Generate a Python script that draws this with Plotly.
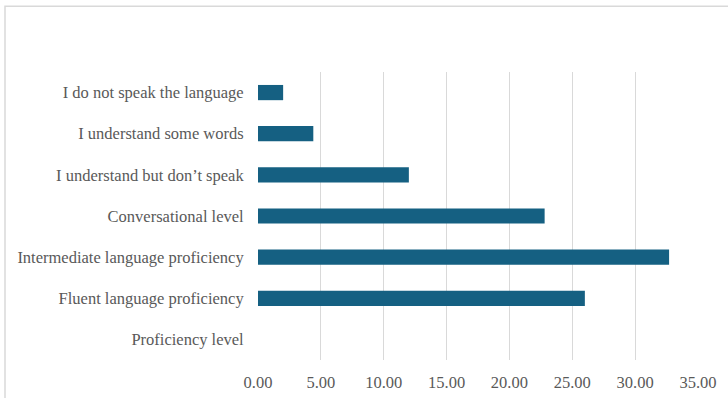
import plotly.graph_objects as go

# Survey responses by language proficiency (percent of respondents)
categories = [
    "I do not speak the language",
    "I understand some words",
    "I understand but don\u2019t speak",
    "Conversational level",
    "Intermediate language proficiency",
    "Fluent language proficiency",
    "Proficiency level",
]
values = [2.0, 4.4, 12.0, 22.8, 32.7, 26.0, None]
tick_vals = [0, 5, 10, 15, 20, 25, 30, 35]
tick_text = ["0.00", "5.00", "10.00", "15.00", "20.00", "25.00", "30.00", "35.00"]

BAR_COLOR = "#156082"
TEXT_COLOR = "#595959"
GRID_COLOR = "#d9d9d9"
FONT = "Liberation Serif, Times New Roman, serif"

fig = go.Figure(
    go.Bar(
        x=values,
        y=categories,
        orientation="h",
        marker=dict(color=BAR_COLOR, line=dict(width=0)),
        hoverinfo="x+y",
    )
)

fig.update_layout(
    width=728,
    height=398,
    margin=dict(l=258, r=30, t=72, b=38, autoexpand=False),
    paper_bgcolor="white",
    plot_bgcolor="white",
    bargap=0.63,
    showlegend=False,
    font=dict(family=FONT, size=16.5, color=TEXT_COLOR),
    xaxis=dict(
        range=[0, 35],
        tickvals=tick_vals,
        ticktext=tick_text,
        showgrid=True,
        gridcolor=GRID_COLOR,
        gridwidth=1,
        zeroline=False,
        showline=False,
        ticks="outside",
        ticklen=7,
        tickcolor="rgba(0,0,0,0)",
        tickfont=dict(family=FONT, size=16.5, color=TEXT_COLOR),
        automargin=False,
        fixedrange=True,
    ),
    yaxis=dict(
        autorange="reversed",
        showgrid=False,
        zeroline=False,
        showline=False,
        ticks="outside",
        ticklen=10,
        tickcolor="rgba(0,0,0,0)",
        tickfont=dict(family=FONT, size=16.5, color=TEXT_COLOR),
        automargin=False,
        fixedrange=True,
    ),
)

# Light chart frame along the top and left edges
fig.add_shape(
    type="path",
    xref="paper",
    yref="paper",
    path="M -0.575 -0.2 L -0.575 1.228 L 1.2 1.228",
    line=dict(color=GRID_COLOR, width=1.5),
    layer="below",
)

fig.write_html("out.html")
